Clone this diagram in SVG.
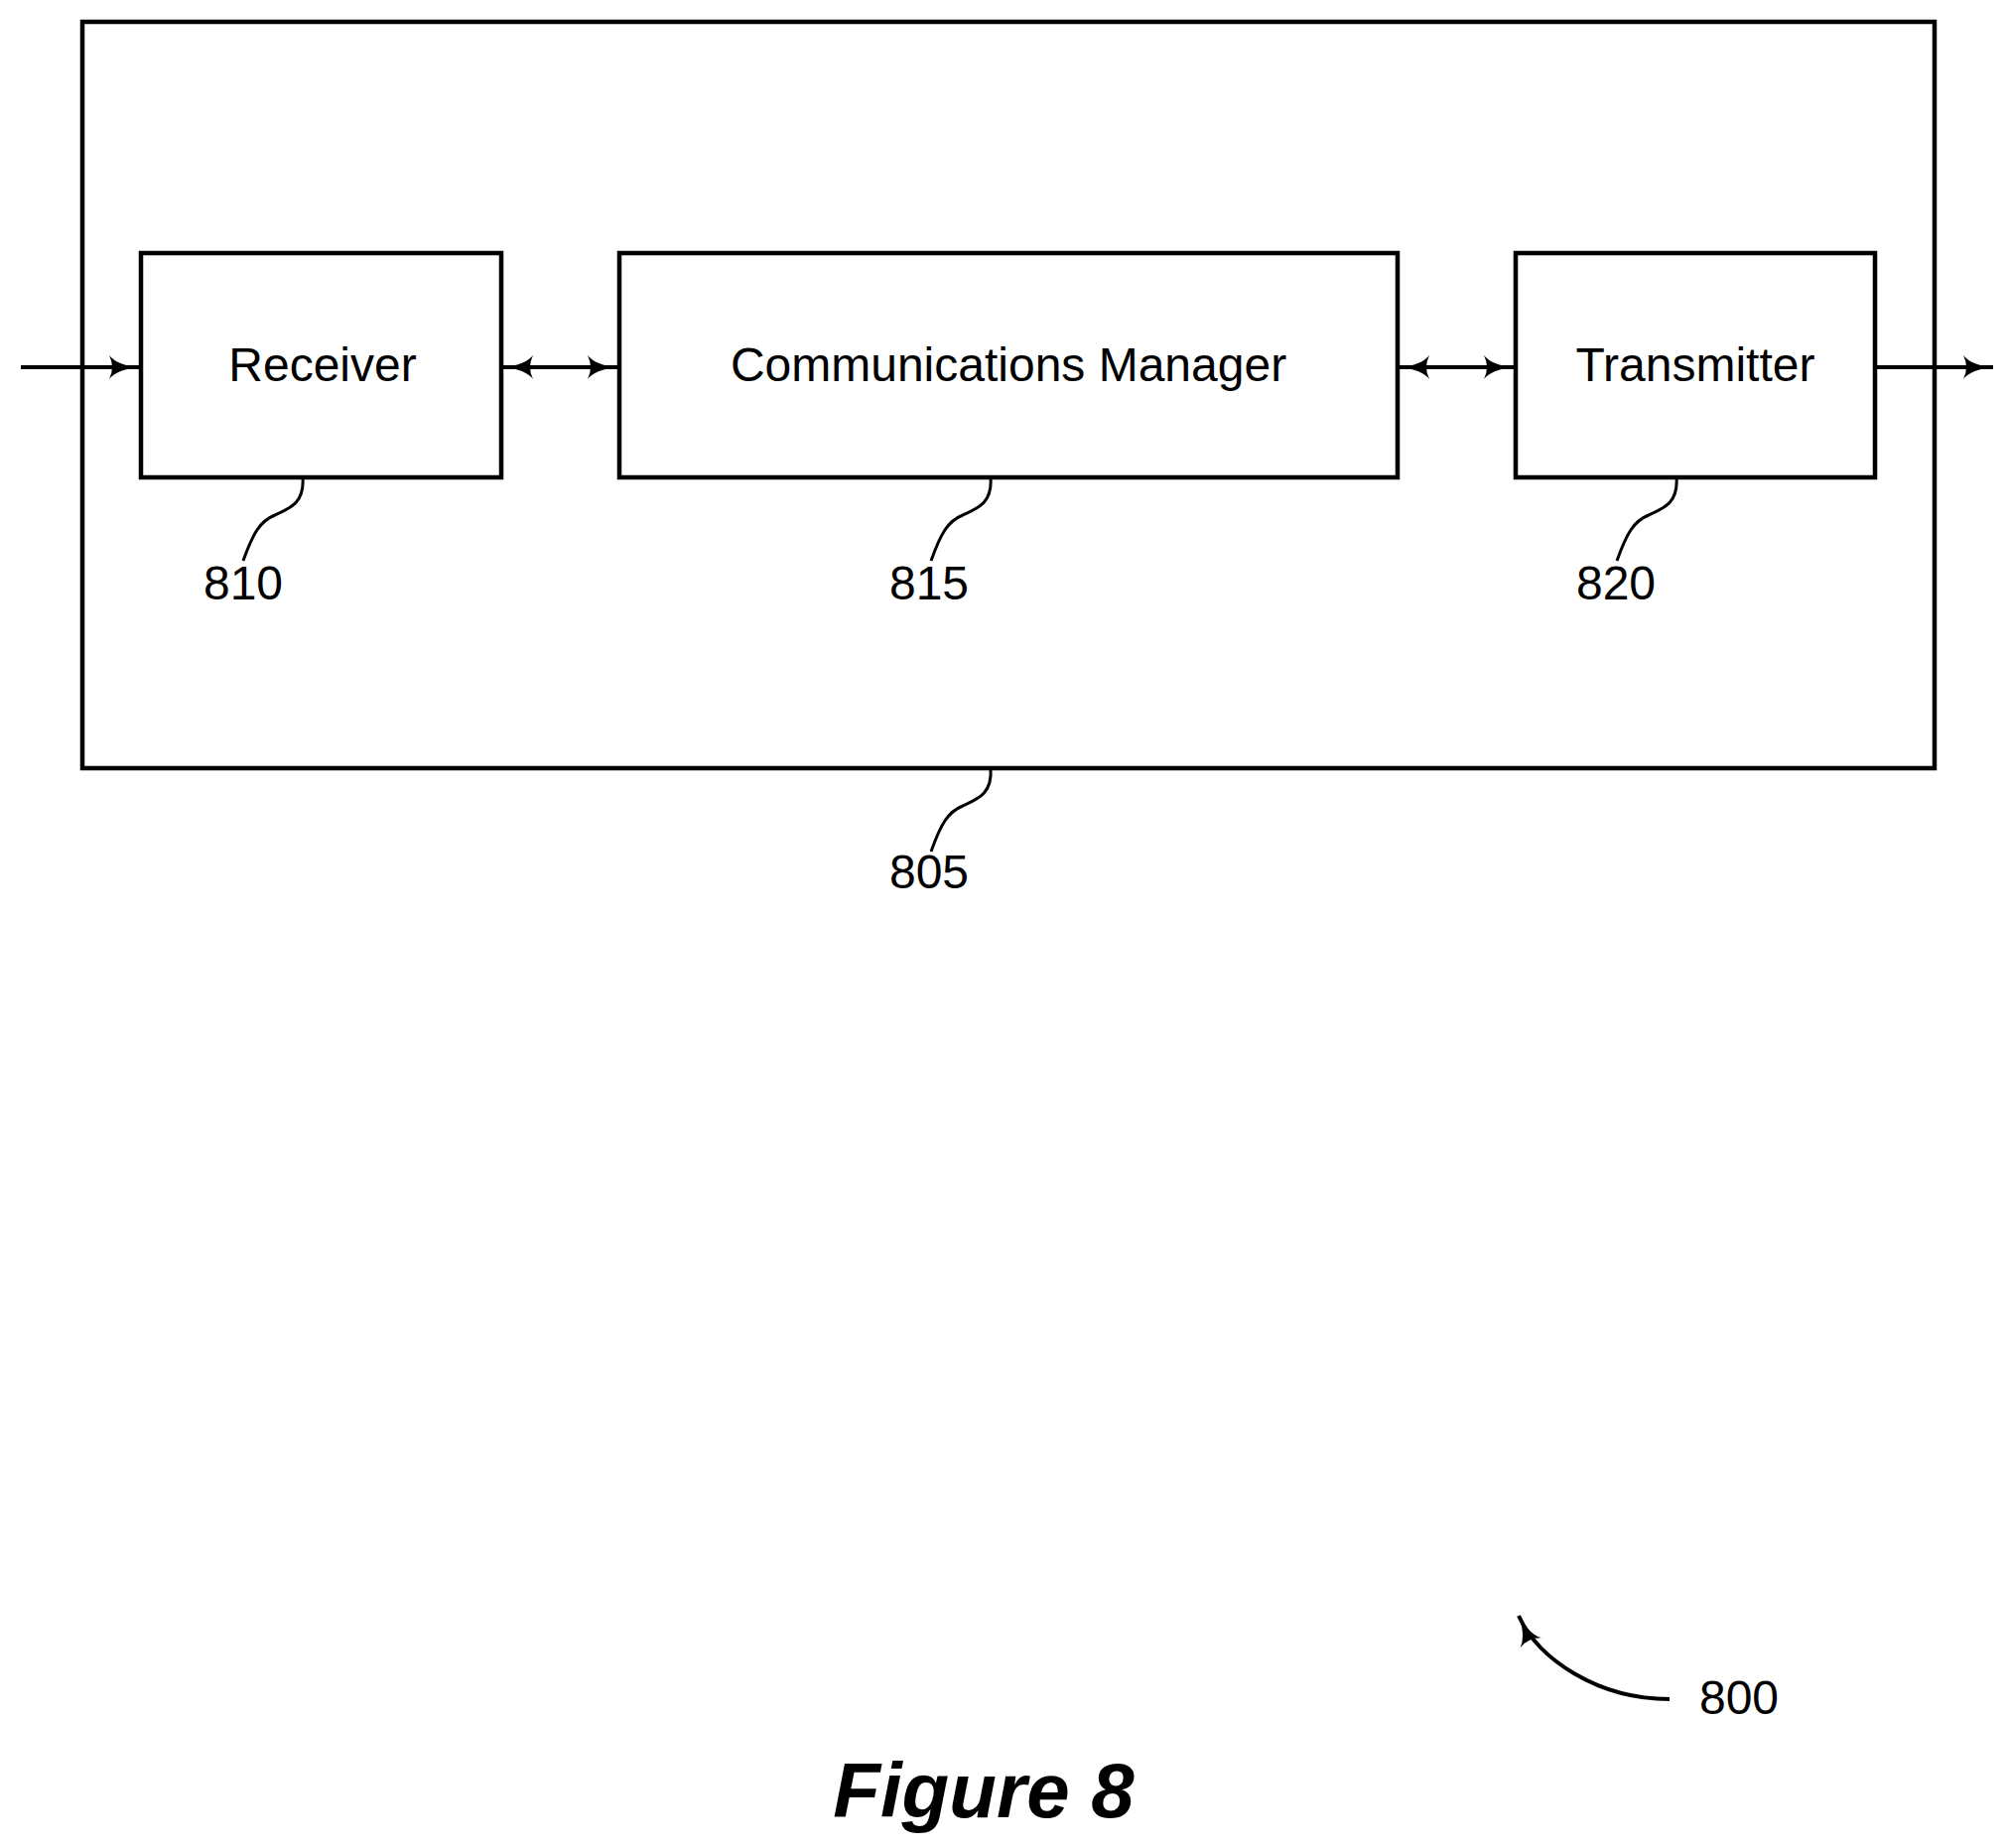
<svg xmlns="http://www.w3.org/2000/svg" width="2023" height="1862" viewBox="0 0 2023 1862">
<style>
.box{fill:none;stroke:#000;stroke-width:4.5}
.ln{fill:none;stroke:#000;stroke-width:4}
.ld{fill:none;stroke:#000;stroke-width:3}
.t{font-family:"Liberation Sans",Arial,sans-serif;font-size:48px;text-anchor:middle;fill:#000}
.fig{font-family:"Liberation Sans",Arial,sans-serif;font-size:78px;font-weight:bold;font-style:italic;text-anchor:middle}
</style>
<defs>
<marker id="ah" viewBox="0 0 30 24" refX="30" refY="12" markerWidth="30" markerHeight="24" markerUnits="userSpaceOnUse" orient="auto-start-reverse">
<path d="M0,0 Q8,10 30,12 Q8,14 0,24 Q6,12 0,0 Z" fill="#000"/>
</marker>
</defs>
<g id="n805"><rect class="box" x="83" y="22" width="1866" height="752"/>
<path class="ld" d="M998,774 C1000,800 985,805 970,812 C955,818 948,830 938,858"/>
<text class="t" x="936" y="895">805</text></g>
<g id="n810"><rect class="box" x="142" y="255" width="363" height="226"/>
<text class="t" x="325" y="384">Receiver</text>
<path class="ld" d="M305,481 C307,507 292,512 277,519 C262,525 255,537 245,565"/>
<text class="t" x="245" y="604">810</text></g>
<g id="n815"><rect class="box" x="624" y="255" width="784" height="226"/>
<text class="t" x="1016" y="384">Communications Manager</text>
<path class="ld" d="M998,481 C1000,507 985,512 970,519 C955,525 948,537 938,565"/>
<text class="t" x="936" y="604">815</text></g>
<g id="n820"><rect class="box" x="1527" y="255" width="362" height="226"/>
<text class="t" x="1708" y="384">Transmitter</text>
<path class="ld" d="M1689,481 C1691,507 1676,512 1661,519 C1646,525 1639,537 1629,565"/>
<text class="t" x="1628" y="604">820</text></g>
<g id="n800"><text class="t" x="1752" y="1727">800</text>
<path class="ln" d="M1682,1712 C1610,1712 1550,1672 1530,1628" marker-end="url(#ah)"/></g>
<g id="connectors">
<line class="ln" x1="21" y1="370" x2="140" y2="370" marker-end="url(#ah)"/>
<line class="ln" x1="507" y1="370" x2="622" y2="370" marker-start="url(#ah)" marker-end="url(#ah)"/>
<line class="ln" x1="1410" y1="370" x2="1525" y2="370" marker-start="url(#ah)" marker-end="url(#ah)"/>
<line class="ln" x1="1889" y1="370" x2="2008" y2="370" marker-end="url(#ah)"/>
</g>
<text class="fig" x="991" y="1831">Figure 8</text>
</svg>
